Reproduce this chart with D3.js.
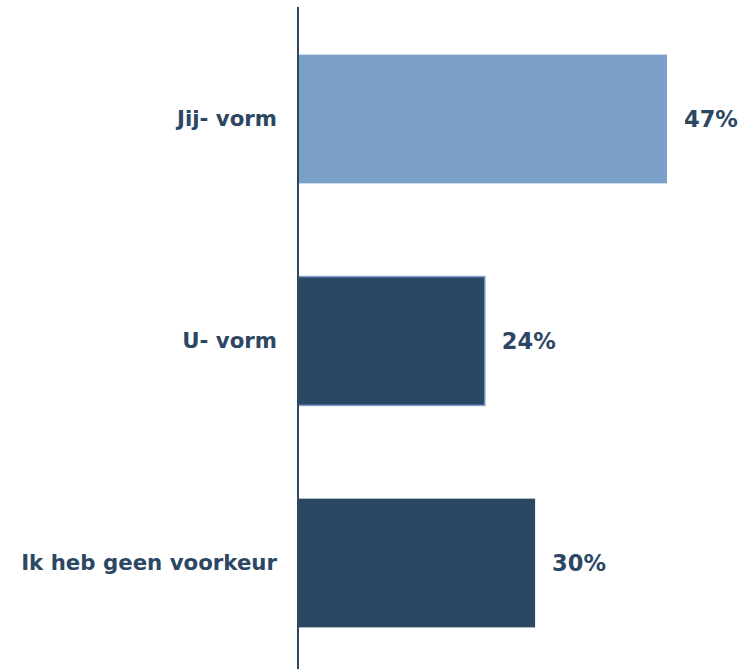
<!DOCTYPE html>
<html><head><meta charset="utf-8">
<script src="https://cdn.jsdelivr.net/npm/d3@7"></script>
<style>body{margin:0;background:#fff}svg{display:block}</style>
</head><body>
<script>
const categories = ["Jij- vorm", "U- vorm", "Ik heb geen voorkeur"];
const values = [47, 23.8, 30.2];
const valueLabels = ["47%", "24%", "30%"];
const barColors = ["#7aa0c8", "#2c4763", "#2c4763"];
const barStrokes = ["none", "#7aa0c8", "none"];

const W = 750, H = 669;
const x0 = 298;
const svg = d3.select("body").append("svg").attr("width", W).attr("height", H);
const x = d3.scaleLinear().domain([0, 47]).range([x0, 667]);
const y = d3.scaleBand().domain(categories).range([8, 674]).paddingInner(0.42).paddingOuter(0.21);
const font = "'DejaVu Sans', Verdana, sans-serif";
const ink = "#2c4763";

const data = categories.map((c, i) => ({c, v: values[i], l: valueLabels[i], col: barColors[i], st: barStrokes[i]}));

svg.selectAll("rect.bar").data(data).join("rect").attr("class", "bar")
  .attr("x", x(0)).attr("y", d => y(d.c))
  .attr("width", d => x(d.v) - x(0)).attr("height", y.bandwidth())
  .attr("fill", d => d.col).attr("stroke", d => d.st).attr("stroke-width", 1.5);

svg.append("line").attr("x1", x0).attr("x2", x0).attr("y1", 7).attr("y2", H)
  .attr("stroke", ink).attr("stroke-width", 2);

svg.selectAll("text.cat").data(data).join("text").attr("class", "cat")
  .attr("x", x0 - 21).attr("y", d => y(d.c) + y.bandwidth() / 2)
  .attr("dy", "0.35em").attr("text-anchor", "end")
  .attr("font-family", font).attr("font-weight", "bold").attr("font-size", 21.3)
  .attr("fill", ink).text(d => d.c);

svg.selectAll("text.val").data(data).join("text").attr("class", "val")
  .attr("x", d => x(d.v) + 17).attr("y", d => y(d.c) + y.bandwidth() / 2)
  .attr("dy", "0.37em").attr("text-anchor", "start")
  .attr("font-family", font).attr("font-weight", "bold").attr("font-size", 22.5)
  .attr("fill", ink).text(d => d.l);
</script>
</body></html>
